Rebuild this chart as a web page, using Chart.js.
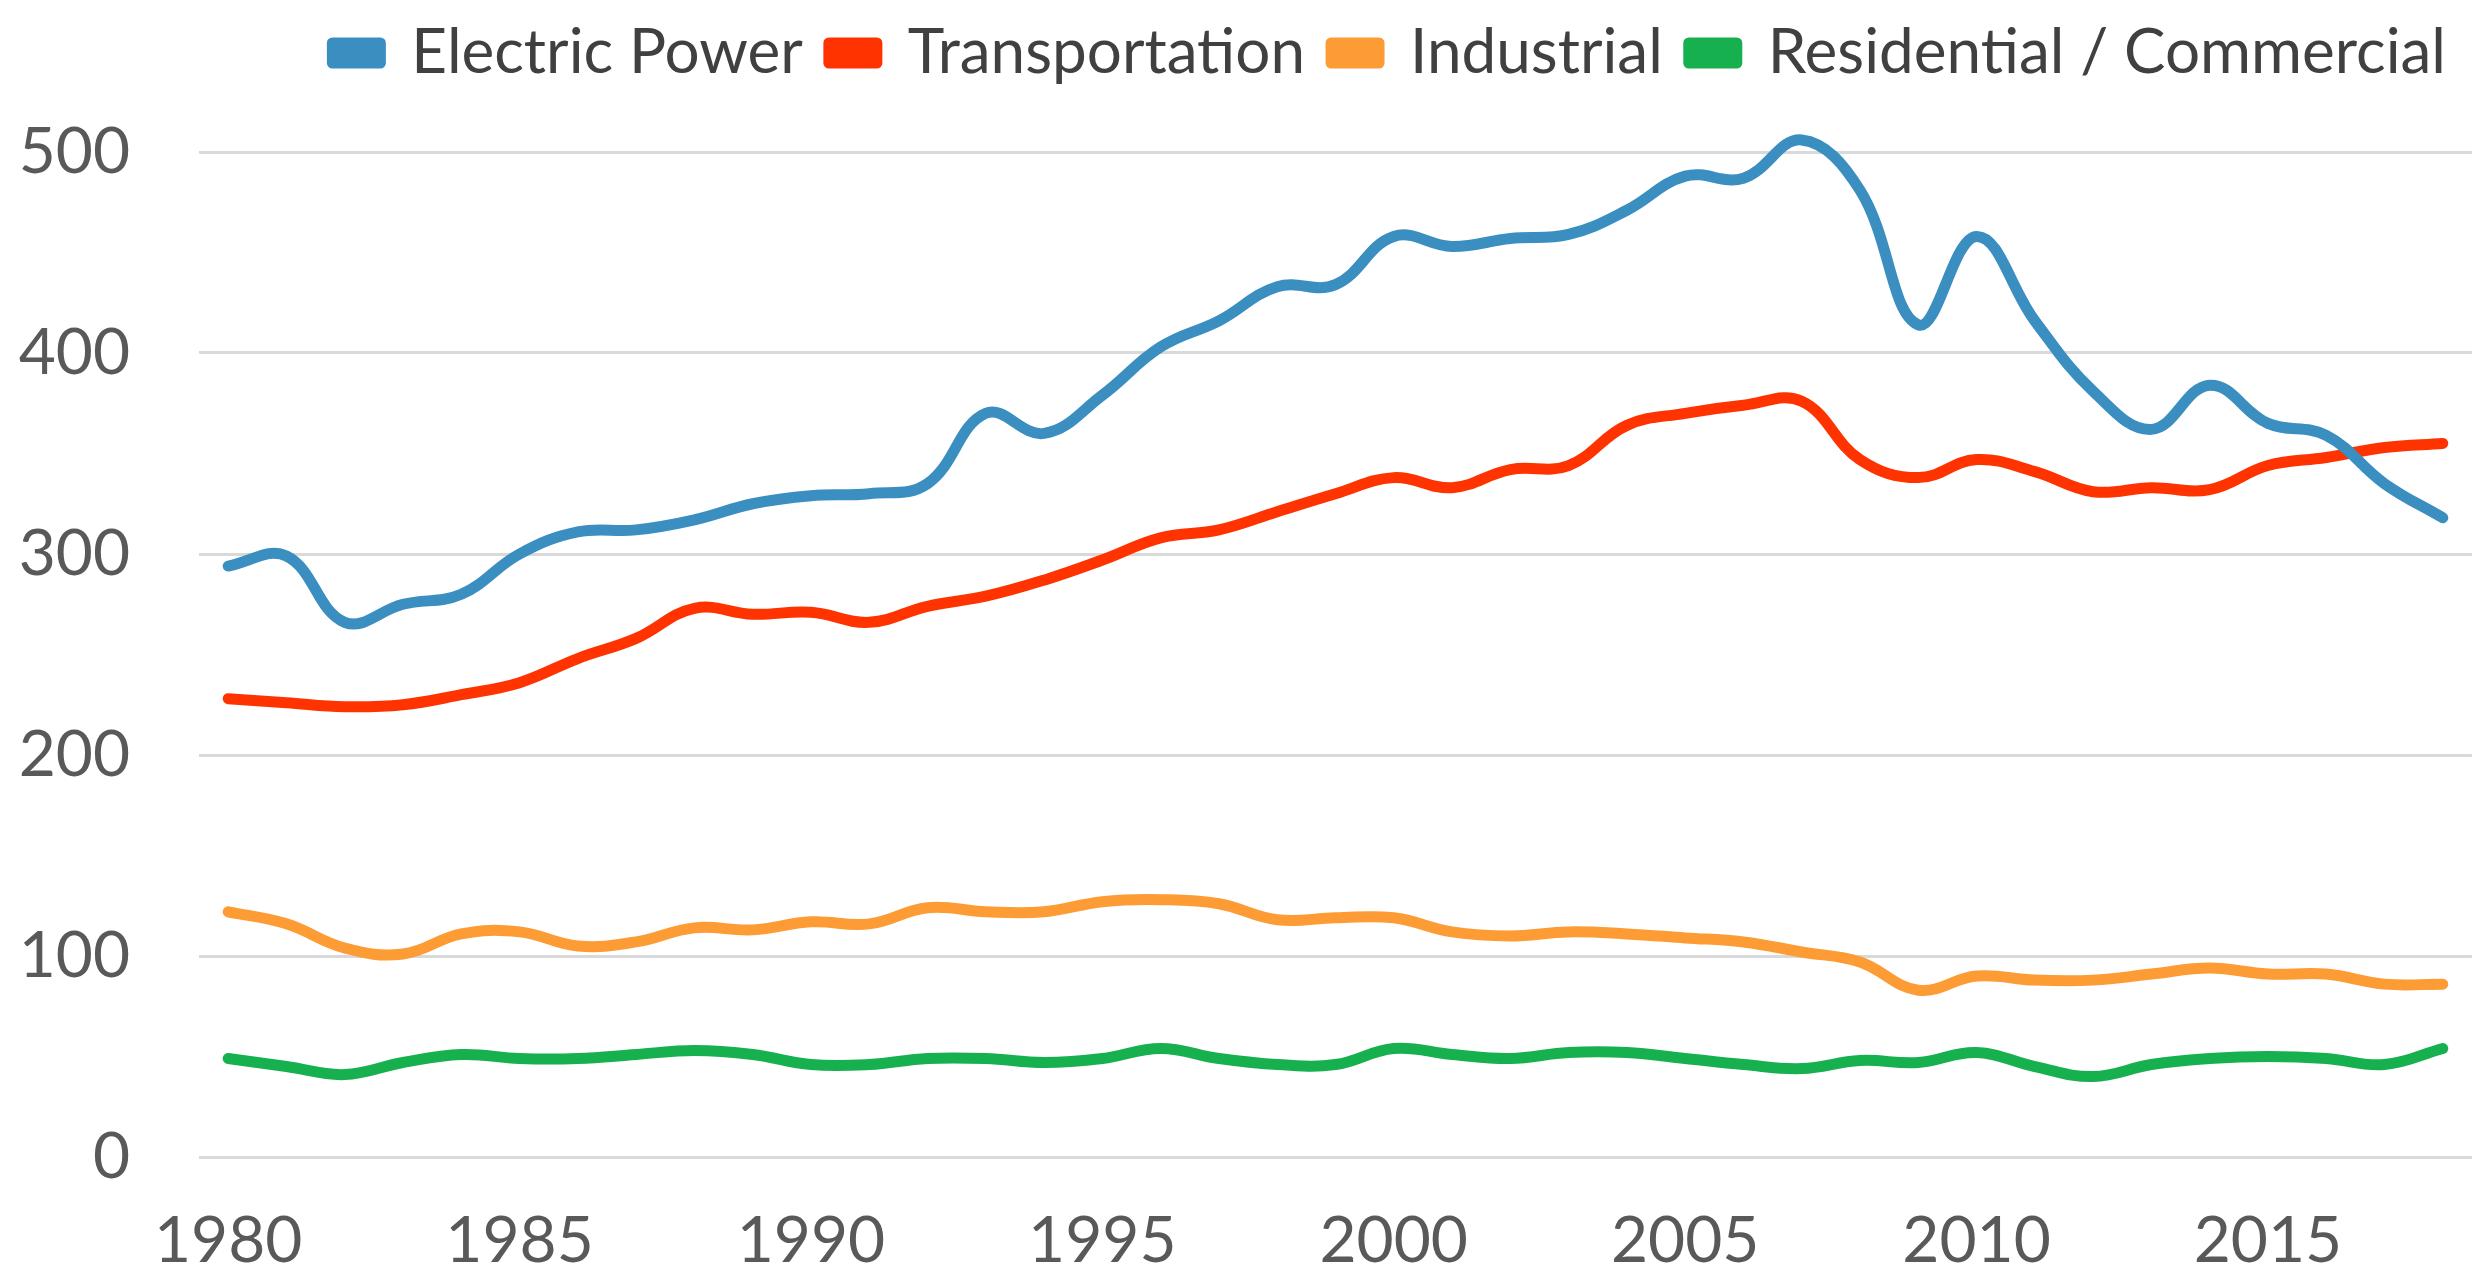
<!DOCTYPE html>
<html>
<head>
<meta charset="utf-8">
<style>
  html, body { margin: 0; padding: 0; background: #ffffff; }
  #wrap { width: 2489px; height: 1277px; position: relative; }
</style>
<script src="https://cdn.jsdelivr.net/npm/chart.js@4.4.1/dist/chart.umd.min.js"></script>
</head>
<body>
<div id="wrap"><canvas id="c" width="2489" height="1277"></canvas></div>
<script>
const years = ['1980','1981','1982','1983','1984','1985','1986','1987','1988','1989',
  '1990','1991','1992','1993','1994','1995','1996','1997','1998','1999',
  '2000','2001','2002','2003','2004','2005','2006','2007','2008','2009',
  '2010','2011','2012','2013','2014','2015','2016','2017','2018'];
const shownYearLabels = ['1980','1985','1990','1995','2000','2005','2010','2015'];

const electricPower = [294,299,266,275,280,300,311,312,317,325,329,330,335,370,360,379,403,416,433,434,458,453,457,459,471,488,487,506,481,414,458,416,381,362,384,365,359,335,318];
const transportation = [228,226,224,225,230,236,248,258,273,270,271,266,274,279,287,297,308,312,321,330,338,333,342,344,364,370,374,376,347,338,347,341,331,333,332,344,348,353,355];
const industrial = [122,116,104,101,111,112,105,107,114,113,117,116,124,122,122,127,128,126,118,119,119,112,110,112,111,109,107,102,97,83,90,88,88,91,94,91,91,86,86];
const residentialCommercial = [49,45,41,47,51,49,49,51,53,51,46,46,49,49,47,49,54,49,46,46,54,51,49,52,52,49,46,44,48,47,52,45,40,46,49,50,49,46,54];

const seriesNames = ['Electric Power', 'Transportation', 'Industrial', 'Residential / Commercial'];
const seriesColors = ['#3A8EC0', '#FF3300', '#FD9B34', '#17B04F'];
const yTicks = [0, 100, 200, 300, 400, 500];

const FONT = 'Lato, "Open Sans", "DejaVu Sans", sans-serif';

function ds(name, data, color) {
  return {
    label: name, data: data,
    borderColor: color, backgroundColor: color,
    borderWidth: 11, pointRadius: 0, pointHoverRadius: 0,
    tension: 0.4, borderCapStyle: 'round', borderJoinStyle: 'round',
    fill: false, clip: false
  };
}

// Reserve a fixed band for the legend and place its row.
const legendBandPlugin = {
  id: 'legendBand',
  beforeLayout(chart) {
    const lg = chart.legend;
    if (lg && !lg._bandPatched) {
      const origFit = lg.fit;
      lg.fit = function () { origFit.call(this); this.height = 152; };
      lg._bandPatched = true;
    }
  },
  afterLayout(chart) {
    const lg = chart.legend;
    if (lg) { lg.top -= 4; lg.bottom -= 4; }
  }
};

new Chart(document.getElementById('c'), {
  type: 'line',
  data: {
    labels: years,
    datasets: [
      ds(seriesNames[0], electricPower, seriesColors[0]),
      ds(seriesNames[1], transportation, seriesColors[1]),
      ds(seriesNames[2], industrial, seriesColors[2]),
      ds(seriesNames[3], residentialCommercial, seriesColors[3])
    ]
  },
  plugins: [legendBandPlugin],
  options: {
    responsive: false,
    animation: false,
    devicePixelRatio: 1,
    layout: { padding: { left: 0, right: 17, top: 0, bottom: 0 } },
    plugins: {
      tooltip: { enabled: false },
      legend: {
        position: 'top', align: 'end',
        labels: {
          font: { family: FONT, size: 62 },
          color: '#404040',
          boxWidth: 48, boxHeight: 20, padding: 26
        }
      }
    },
    scales: {
      x: {
        type: 'category', offset: true,
        grid: { display: false, drawTicks: false },
        border: { display: false },
        afterFit: s => { s.height = 120; },
        ticks: {
          autoSkip: false, maxRotation: 0, minRotation: 0, padding: 46,
          color: '#595959', font: { family: FONT, size: 64 },
          callback: function(v) { const l = this.getLabelForValue(v); return shownYearLabels.includes(l) ? l : ''; }
        }
      },
      y: {
        min: yTicks[0], max: yTicks[yTicks.length - 1],
        afterFit: s => { s.width = 199; },
        afterBuildTicks: s => { s.ticks = yTicks.map(v => ({ value: v })); },
        grid: { color: '#D9D9D9', lineWidth: 3, drawTicks: false },
        border: { display: false },
        ticks: { padding: 69, color: '#595959', font: { family: FONT, size: 64 } }
      }
    }
  }
});
</script>
</body>
</html>
